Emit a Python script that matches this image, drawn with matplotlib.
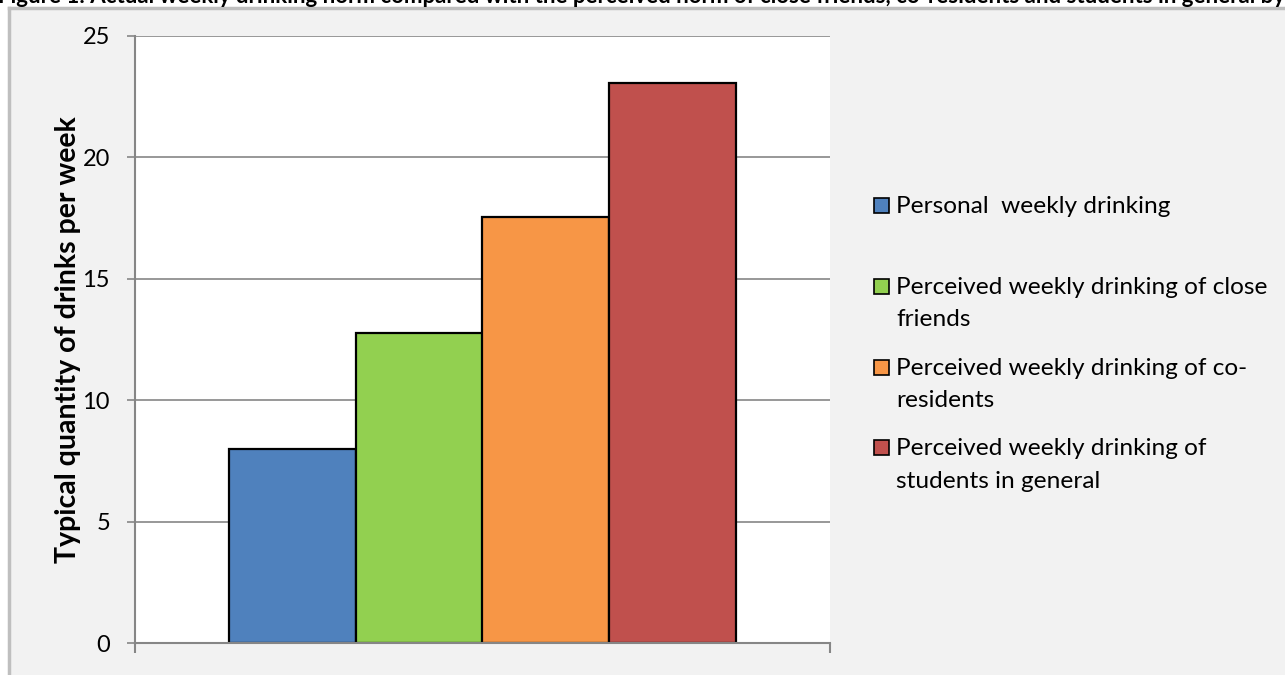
import matplotlib.pyplot as plt
from matplotlib.patches import Rectangle
import numpy as np

# Data ================================================================================================
series_labels = ['Personal  weekly drinking',
                 'Perceived weekly drinking of close\nfriends',
                 'Perceived weekly drinking of co-\nresidents',
                 'Perceived weekly drinking of\nstudents in general']
values = [8.0, 12.77, 17.55, 23.06]
colors = ['#4f81bd', '#92d050', '#f79646', '#c0504d']
yticks = [0, 5, 10, 15, 20, 25]
ylabel = 'Typical quantity of drinks per week'
title = ('Figure 1: Actual weekly drinking norm compared with the perceived norm of close friends, '
         'co-residents and students in general by')
#======================================================================================================

plt.rcParams['font.family'] = ['Lato', 'DejaVu Sans']

W, H = 1285, 675
DPI = 100
fig = plt.figure(figsize=(W / DPI, H / DPI), dpi=DPI)
fig.patch.set_facecolor('white')

# Grey chart area with its frame on the left and top
fig.patches.append(Rectangle((9 / W, 0), 1, 1 - 8 / H, transform=fig.transFigure,
                             facecolor='#f2f2f2', edgecolor='none', zorder=-5))
fig.add_artist(plt.Line2D([9 / W, 9 / W], [0, 1 - 8 / H], color='#bfbfbf', lw=2.5,
                          transform=fig.transFigure, zorder=-4))
fig.add_artist(plt.Line2D([9 / W, 1], [1 - 8 / H, 1 - 8 / H], color='#bfbfbf', lw=2.5,
                          transform=fig.transFigure, zorder=-4))

# Title, cut by the top of the page
fig.text(-2 / W, 1 - 3 / H, title, ha='left', va='baseline', fontsize=16, fontweight='bold',
         color='black')

# Plot area
ax = fig.add_axes([135 / W, (H - 643) / H, 695 / W, (643 - 36) / H])
ax.set_facecolor('white')

width = 127 / 695
n = len(values)
x = (np.arange(n) - (n - 1) / 2) * width
bars = ax.bar(x, values, width=width, color=colors, edgecolor='black', linewidth=1.6, zorder=2)

ax.set_xlim(-0.5, 0.5)
ax.set_ylim(0, 25)
ax.set_yticks(yticks)
ax.set_xticks([-0.5, 0.5])
ax.set_xticklabels(['', ''])
ax.yaxis.grid(True, color='#868686', linewidth=1.2)
ax.set_axisbelow(True)
for s in ['top', 'right']:
    ax.spines[s].set_visible(False)
for s in ['left', 'bottom']:
    ax.spines[s].set_color('#868686')
    ax.spines[s].set_linewidth(1.5)
    ax.spines[s].set_zorder(3)
ax.tick_params(axis='y', length=6, width=1.2, color='#868686', pad=12, labelsize=17)
ax.tick_params(axis='x', length=7, width=1.5, color='#868686')

# Axis title
fig.text(68 / W, 1 - 340 / H, ylabel, rotation=90, ha='center', va='center',
         fontsize=20.5, fontweight='bold')

# Legend at the right, one square per series
line_px = 32.4  # baseline to baseline inside a wrapped label
for i, (lab, c) in enumerate(zip(series_labels, colors)):
    base = 213.3 + i * 80.7
    fig.patches.append(Rectangle((874 / W, 1 - base / H), 15 / W, 15 / H,
                                 transform=fig.transFigure, facecolor=c,
                                 edgecolor='black', linewidth=1.2, zorder=3))
    extra = lab.count('\n') * line_px
    fig.text(896 / W, 1 - (base + extra) / H, lab, ha='left', va='baseline', fontsize=17.6,
             linespacing=1.75 * line_px / 34, color='black')

plt.savefig('out.png', dpi=DPI)
